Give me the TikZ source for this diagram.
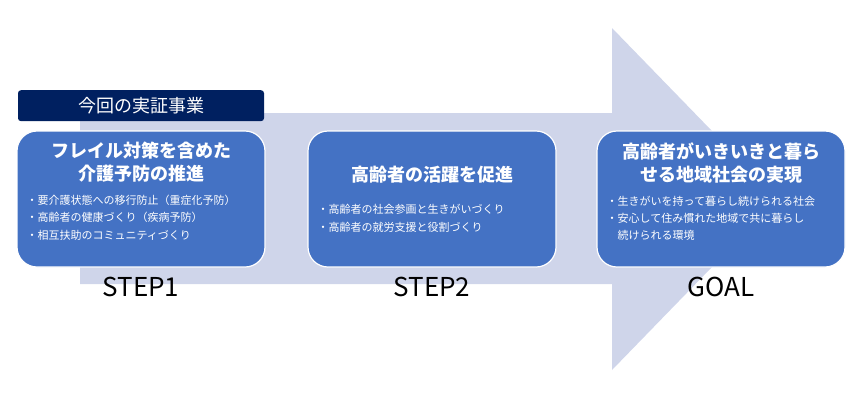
\documentclass[tikz,border=0pt]{standalone}
\usepackage{fontspec}
\setmainfont{Noto Sans CJK JP}
\usetikzlibrary{positioning}
\definecolor{flowgray}{RGB}{207,213,234}
\definecolor{stepblue}{RGB}{68,114,196}
\definecolor{pilotnavy}{RGB}{0,32,96}

\begin{document}
\begin{tikzpicture}[x=1pt,y=-1pt,node distance=0pt,
    stepbox/.style={draw=white,line width=1.2pt,fill=stepblue,rounded corners=20pt,minimum width=248pt,minimum height=136pt,inner sep=0pt},
    ttl/.style={text=white,font=\fontsize{18}{23}\selectfont\bfseries,align=center,inner sep=0pt},
    pts/.style={text=white,font=\fontsize{11}{17.5}\selectfont,align=left,inner sep=0pt,anchor=north west},
    lbl/.style={font=\fontsize{26}{28}\selectfont,inner sep=0pt}]
  \useasboundingbox (0,0) rectangle (860,400);
  % big arrow behind the steps
  \fill[flowgray] (80,113) -- (612,113) -- (612,28) -- (778,199) -- (612,370) -- (612,284) -- (80,284) -- cycle;
  \node[stepbox] (s1) at (141,199) {};
  \node[stepbox] (s2) at (432,199) {};
  \node[stepbox] (s3) at (721,199) {};
  \node[fill=pilotnavy,rounded corners=3pt,minimum width=246pt,minimum height=31pt,inner sep=0pt,
        text=white,font=\fontsize{18}{18}\selectfont,above=9pt of s1] (pilot) {今回の実証事業};
  % step 1
  \node[ttl,below=11pt of s1.north] (t1) {フレイル対策を含めた\\介護予防の推進};
  \node[pts] (p1) at ([xshift=10pt,yshift=-64pt]s1.north west) {・要介護状態への移行防止（重症化予防）\\・高齢者の健康づくり（疾病予防）\\・相互扶助のコミュニティづくり};
  \node[lbl,below=9.5pt of s1.south] (l1) {STEP1};
  % step 2
  \node[ttl,below=35pt of s2.north] (t2) {高齢者の活躍を促進};
  \node[pts] (p2) at ([xshift=10pt,yshift=-74pt]s2.north west) {・高齢者の社会参画と生きがいづくり\\・高齢者の就労支援と役割づくり};
  \node[lbl,below=9.5pt of s2.south] (l2) {STEP2};
  % goal
  \node[ttl,below=12pt of s3.north] (t3) {高齢者がいきいきと暮ら\\せる地域社会の実現};
  \node[pts,font=\fontsize{11}{16.8}\selectfont] (p3) at ([xshift=10pt,yshift=-66pt]s3.north west) {・生きがいを持って暮らし続けられる社会\\・安心して住み慣れた地域で共に暮らし\\　続けられる環境};
  \node[lbl,below=9.5pt of s3.south] (l3) {GOAL};
\end{tikzpicture}
\end{document}
